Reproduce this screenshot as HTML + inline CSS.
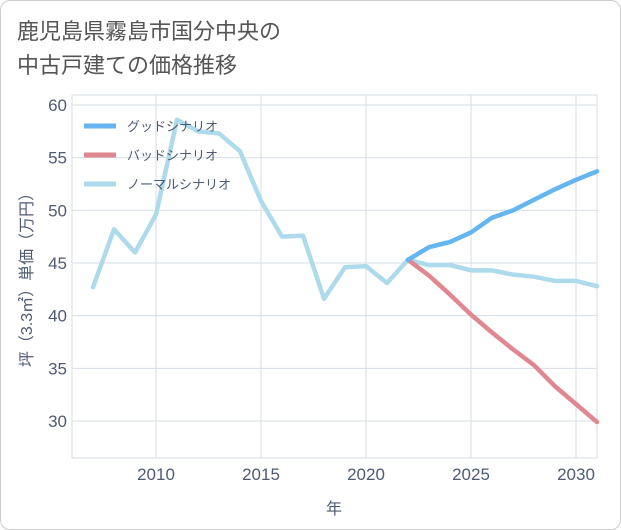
<!DOCTYPE html>
<html><head><meta charset="utf-8"><style>
body{margin:0;background:#fff;}
#wrap{position:relative;width:619px;height:528px;border:1px solid #ccc;border-radius:10px;overflow:hidden;background:#fff;font-family:"Liberation Sans","Noto Sans CJK JP",sans-serif;}
#title{position:absolute;left:16px;top:14px;font-size:22px;line-height:34px;color:#555;}
</style></head><body>
<div id="wrap">
<div id="title">鹿児島県霧島市国分中央の<br>中古戸建ての価格推移</div>
<svg id="chart" width="621" height="530" style="position:absolute;left:-1px;top:-1px"></svg>
</div>
<script>
const years=[2007,2008,2009,2010,2011,2012,2013,2014,2015,2016,2017,2018,2019,2020,2021,2022,2023,2024,2025,2026,2027,2028,2029,2030,2031];
const normal=[42.7,48.2,46,49.6,58.6,57.5,57.3,55.6,50.9,47.5,47.6,41.6,44.6,44.7,43.1,45.3,44.8,44.8,44.3,44.3,43.9,43.7,43.3,43.3,42.8];
const goodYears=[2022,2023,2024,2025,2026,2027,2028,2029,2030,2031];
const good=[45.3,46.5,47.0,47.9,49.3,50.0,51.0,52.0,52.9,53.7];
const bad=[45.3,43.8,42.0,40.1,38.4,36.8,35.3,33.3,31.6,29.9];
const yTicks=[30,35,40,45,50,55,60];
const xTicks=[2010,2015,2020,2025,2030];
const X0=72,X1=597,Y0=95,Y1=458;
const xs=v=>156+(v-2010)*21;
const ys=v=>105+(60-v)*10.533;
const svg=document.getElementById('chart');
const NS='http://www.w3.org/2000/svg';
function mk(t,a){const e=document.createElementNS(NS,t);for(const k in a)e.setAttribute(k,a[k]);svg.appendChild(e);return e;}
let r=mk('rect',{x:X0,y:Y0,width:X1-X0,height:Y1-Y0,fill:'#fff',stroke:'#d6dee6'});


yTicks.forEach(v=>{const l=mk('line',{x1:X0,x2:X1,y1:ys(v),y2:ys(v),stroke:'#d6dee6'});


const t=mk('text',{x:67,y:ys(v)+6,'text-anchor':'end','font-size':17,fill:'#4e5b72'});t.textContent=v;

});
xTicks.forEach(v=>{const l=mk('line',{x1:xs(v),x2:xs(v),y1:Y0,y2:Y1,stroke:'#d6dee6'});


const t=mk('text',{x:xs(v),y:480,'text-anchor':'middle','font-size':17,fill:'#4e5b72'});t.textContent=v;

});
let xt=mk('text',{x:334,y:514,'text-anchor':'middle','font-size':16,fill:'#4e5b72'});xt.textContent='年';


let yt=mk('text',{x:0,y:0,'text-anchor':'middle','font-size':16,fill:'#4e5b72',transform:'translate(32,276) rotate(-90)'});yt.textContent='坪（3.3㎡）単価（万円）';


function line(xv,yv,c,n){const p=mk('polyline',{points:xv.map((x,i)=>xs(x)+','+ys(yv[i])).join(' '),fill:'none',stroke:c,'stroke-width':4.5,'stroke-linejoin':'round','stroke-linecap':'round'});

}
line(years,normal,'#addbeb','normal-line');
line(goodYears,bad,'#df8890','bad-line');
line(goodYears,good,'#64b5f0','good-line');
const leg=[['グッドシナリオ','#64b5f0'],['バッドシナリオ','#df8890'],['ノーマルシナリオ','#addbeb']];
leg.forEach((d,i)=>{const y=126+i*29;const l=mk('line',{x1:84,x2:116,y1:y,y2:y,stroke:d[1],'stroke-width':5});


const t=mk('text',{x:127,y:y+5,'font-size':13,fill:'#4e5b72'});t.textContent=d[0];

});
</script>
</body></html>
